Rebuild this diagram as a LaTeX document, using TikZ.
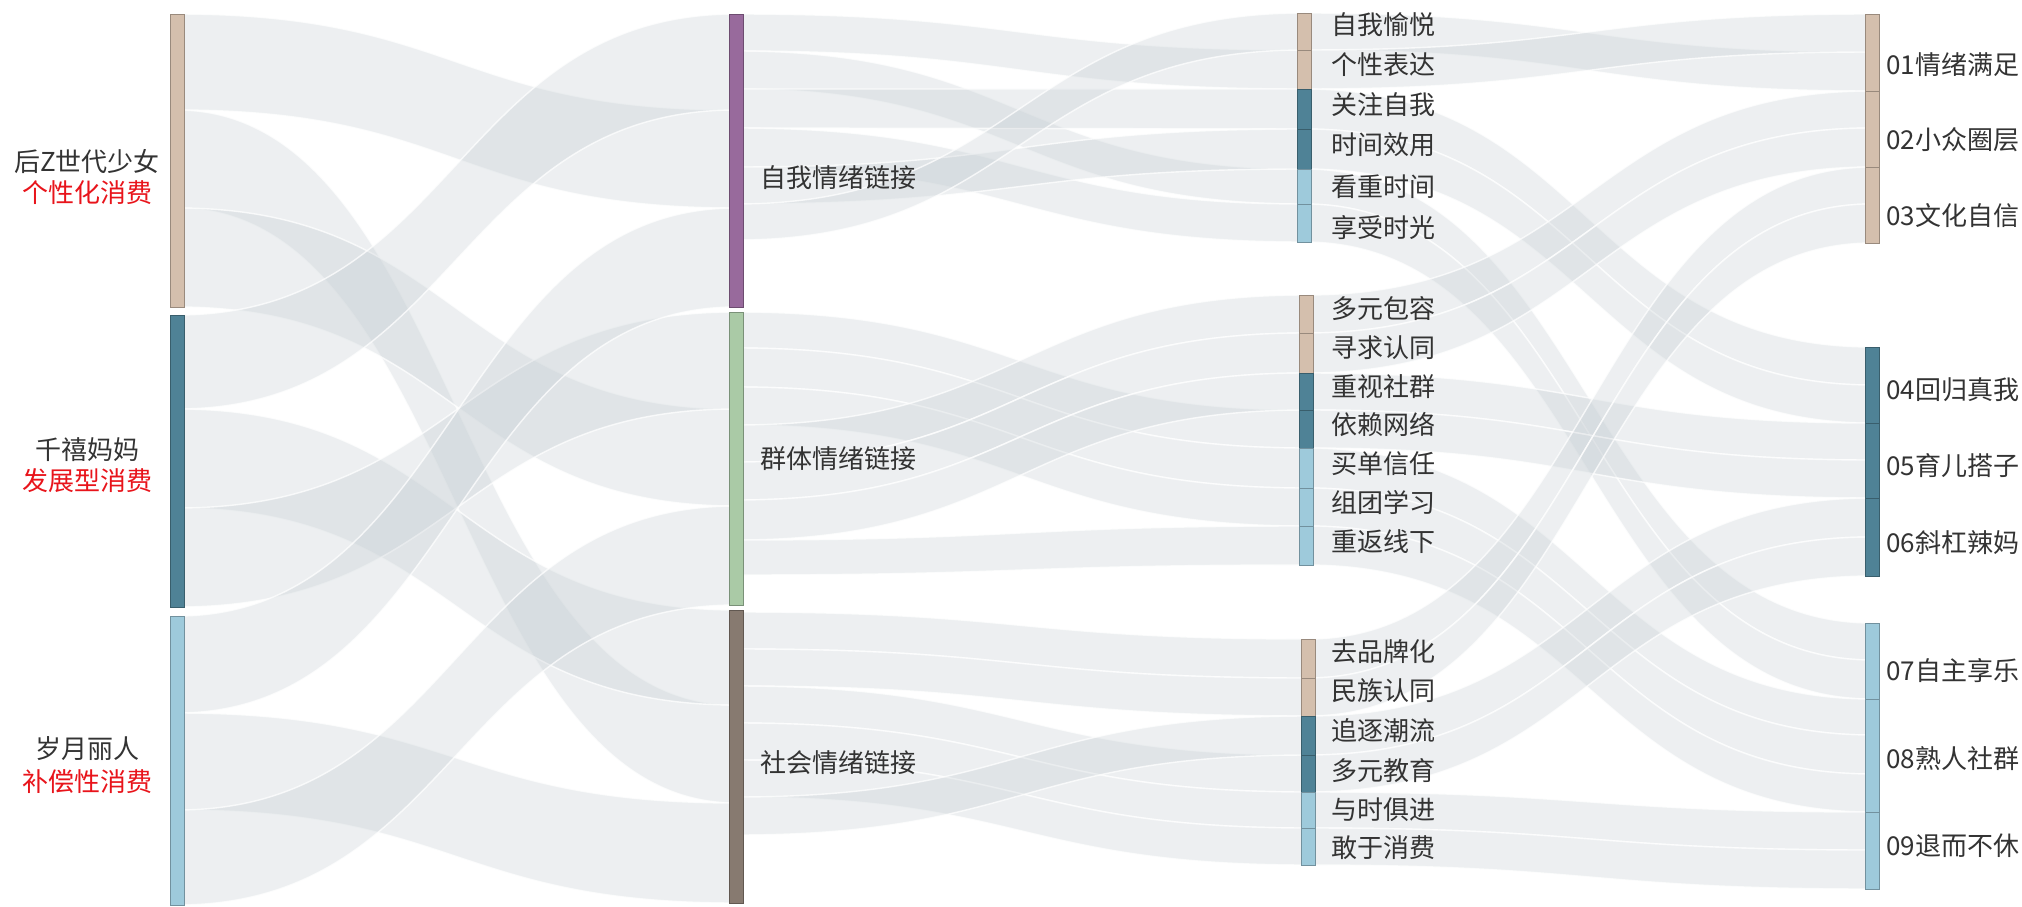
\documentclass[tikz,border=0pt]{standalone}
\usepackage{fontspec}
\newfontfamily\cjk{Noto Sans CJK SC}
\definecolor{tanc}{HTML}{D4BFAD}
\definecolor{tealc}{HTML}{4F8296}
\definecolor{lbluec}{HTML}{9ECADB}
\definecolor{purpc}{HTML}{986A9C}
\definecolor{greenc}{HTML}{AACAA6}
\definecolor{brownc}{HTML}{877A70}
\definecolor{linkc}{RGB}{195,203,209}
\definecolor{txtc}{HTML}{333333}
\definecolor{redc}{HTML}{E8141B}
\newcommand\lnk[6]{%
  \pgfmathsetmacro\xm{(#1+#4)/2}%
  \path[linksty] (#1,#2) .. controls (\xm,#2) and (\xm,#5) .. (#4,#5) -- (#4,#6) .. controls (\xm,#6) and (\xm,#3) .. (#1,#3) -- cycle;}
\newcommand\barnode[5]{%
  \node[barsty, fill=#5, draw=#5!72!black, minimum height={(#4-#3)*1pt}] (#1) at (#2,#3) {};}
\begin{document}
\begin{tikzpicture}[x=1pt,y=-1pt,
  linksty/.style={fill=linkc, fill opacity=0.3, draw=white, draw opacity=0.75, line width=1.4pt},
  barsty/.style={anchor=north west, minimum width=14pt, inner sep=0pt, outer sep=0pt, line width=0.9pt},
  lab/.style={font=\cjk\fontsize{26pt}{31pt}\selectfont, text=txtc, inner sep=0pt, text height=0.83em, text depth=0.07em, yshift=-6.5pt},
  redlab/.style={lab, text=redc}]
\useasboundingbox (0,0) rectangle (2022,907);
% ---------- links col1 -> col2
\lnk{177}{14}{110}{736}{110}{208}
\lnk{177}{110}{208}{736}{705}{803}
\lnk{177}{208}{307}{736}{409}{506}
\lnk{177}{315}{409}{736}{14}{110}
\lnk{177}{409}{508}{736}{610}{705}
\lnk{177}{508}{607}{736}{312}{409}
\lnk{177}{616}{713}{736}{208}{307}
\lnk{177}{713}{810}{736}{803}{903}
\lnk{177}{810}{905}{736}{506}{605}
% ---------- links col2 -> col3
\lnk{736}{14}{51}{1304}{50}{89}
\lnk{736}{51}{89}{1304}{169}{204}
\lnk{736}{89}{128}{1304}{89}{129}
\lnk{736}{128}{167}{1304}{204}{242}
\lnk{736}{167}{204}{1304}{129}{169}
\lnk{736}{204}{240}{1304}{13}{50}
\lnk{736}{312}{348}{1306}{410}{448}
\lnk{736}{348}{387}{1306}{448}{488}
\lnk{736}{387}{425}{1306}{488}{526}
\lnk{736}{425}{462}{1306}{295}{333}
\lnk{736}{462}{500}{1306}{333}{373}
\lnk{736}{500}{540}{1306}{373}{410}
\lnk{736}{540}{575}{1306}{526}{565}
\lnk{736}{612}{649}{1308}{639}{678}
\lnk{736}{649}{686}{1308}{678}{716}
\lnk{736}{686}{723}{1308}{755}{792}
\lnk{736}{723}{760}{1308}{792}{828}
\lnk{736}{760}{797}{1308}{828}{865}
\lnk{736}{797}{835}{1308}{716}{755}
% ---------- links col3 -> col4
\lnk{1304}{13}{50}{1872}{52}{91}
\lnk{1304}{50}{89}{1872}{14}{52}
\lnk{1304}{89}{129}{1872}{347}{385}
\lnk{1304}{129}{169}{1872}{385}{423}
\lnk{1304}{169}{204}{1872}{623}{660}
\lnk{1304}{204}{242}{1872}{660}{699}
\lnk{1306}{295}{333}{1872}{91}{128}
\lnk{1306}{333}{373}{1872}{128}{167}
\lnk{1306}{373}{410}{1872}{423}{460}
\lnk{1306}{410}{448}{1872}{460}{498}
\lnk{1306}{448}{488}{1872}{699}{735}
\lnk{1306}{488}{526}{1872}{735}{774}
\lnk{1306}{526}{565}{1872}{774}{812}
\lnk{1308}{639}{678}{1872}{167}{204}
\lnk{1308}{678}{716}{1872}{204}{243}
\lnk{1308}{716}{755}{1872}{498}{537}
\lnk{1308}{755}{792}{1872}{537}{576}
\lnk{1308}{792}{828}{1872}{812}{850}
\lnk{1308}{828}{865}{1872}{850}{889}
% ---------- bars col1
\barnode{hz}{170}{14}{307}{tanc}
\barnode{qx}{170}{315}{607}{tealc}
\barnode{sy}{170}{616}{905}{lbluec}
% ---------- bars col2
\barnode{zw}{729}{14}{307}{purpc}
\barnode{qt}{729}{312}{605}{greenc}
\barnode{sh}{729}{610}{903}{brownc}
% ---------- bars col3
\barnode{a1}{1297}{13}{50}{tanc}
\barnode{a2}{1297}{50}{89}{tanc}
\barnode{a3}{1297}{89}{129}{tealc}
\barnode{a4}{1297}{129}{169}{tealc}
\barnode{a5}{1297}{169}{204}{lbluec}
\barnode{a6}{1297}{204}{242}{lbluec}
\barnode{b1}{1299}{295}{333}{tanc}
\barnode{b2}{1299}{333}{373}{tanc}
\barnode{b3}{1299}{373}{410}{tealc}
\barnode{b4}{1299}{410}{448}{tealc}
\barnode{b5}{1299}{448}{488}{lbluec}
\barnode{b6}{1299}{488}{526}{lbluec}
\barnode{b7}{1299}{526}{565}{lbluec}
\barnode{c1}{1301}{639}{678}{tanc}
\barnode{c2}{1301}{678}{716}{tanc}
\barnode{c3}{1301}{716}{755}{tealc}
\barnode{c4}{1301}{755}{792}{tealc}
\barnode{c5}{1301}{792}{828}{lbluec}
\barnode{c6}{1301}{828}{865}{lbluec}
% ---------- bars col4
\barnode{d1}{1865}{14}{91}{tanc}
\barnode{d2}{1865}{91}{167}{tanc}
\barnode{d3}{1865}{167}{243}{tanc}
\barnode{d4}{1865}{347}{423}{tealc}
\barnode{d5}{1865}{423}{498}{tealc}
\barnode{d6}{1865}{498}{576}{tealc}
\barnode{d7}{1865}{623}{699}{lbluec}
\barnode{d8}{1865}{699}{812}{lbluec}
\barnode{d9}{1865}{812}{889}{lbluec}
% ---------- labels col1
\node[lab] (hzt) at (87,161) {后Z世代少女};
\node[redlab] (hzr) at (87,192) {个性化消费};
\node[lab] (qxt) at (87,449) {千禧妈妈};
\node[redlab] (qxr) at (87,480) {发展型消费};
\node[lab] (syt) at (87,748) {岁月丽人};
\node[redlab] (syr) at (87,781) {补偿性消费};
% ---------- labels col2
\node[lab, anchor=west] (zwt) at (760,177) {自我情绪链接};
\node[lab, anchor=west] (qtt) at (760,458) {群体情绪链接};
\node[lab, anchor=west] (sht) at (760,762) {社会情绪链接};
% ---------- labels col3
\foreach \n/\y/\t in {a1/24.5/自我愉悦, a2/64.5/个性表达, a3/104/关注自我, a4/144/时间效用, a5/186/看重时间, a6/227/享受时光,
  b1/308/多元包容, b2/347/寻求认同, b3/386/重视社群, b4/424/依赖网络, b5/463/买单信任, b6/502/组团学习, b7/541/重返线下,
  c1/651/去品牌化, c2/690/民族认同, c3/730/追逐潮流, c4/770/多元教育, c5/809/与时俱进, c6/847/敢于消费}
  {\node[lab, anchor=west] (\n t) at (1331,\y) {\t};}
% ---------- labels col4
\foreach \n/\y/\t in {d1/64/01情绪满足, d2/139/02小众圈层, d3/215/03文化自信, d4/389/04回归真我, d5/465/05育儿搭子,
  d6/542/06斜杠辣妈, d7/670/07自主享乐, d8/758/08熟人社群, d9/845/09退而不休}
  {\node[lab, anchor=west] (\n t) at (1886,\y) {\t};}
\end{tikzpicture}
\end{document}
